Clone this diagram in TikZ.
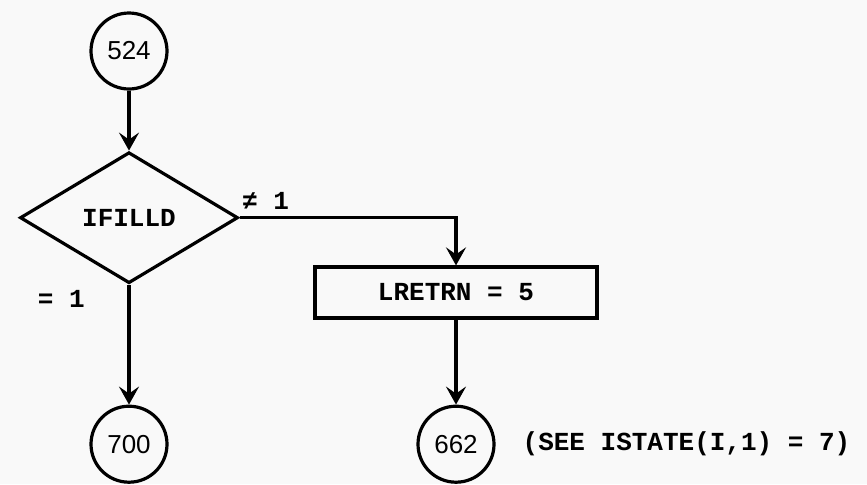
\documentclass[tikz,border=0pt]{standalone}
\usepackage{fontspec}
\setmonofont{Liberation Mono}
\newfontfamily\numfont{Liberation Sans}
\usetikzlibrary{arrows.meta,positioning,shapes.geometric}

\begin{document}
\begin{tikzpicture}[
  font=\ttfamily\bfseries\fontsize{13}{15}\selectfont,
  conn/.style={draw,circle,line width=1.6pt,minimum size=38pt,inner sep=0pt,font=\numfont\fontsize{13}{15}\selectfont},
  test/.style={draw,diamond,line width=1.6pt,minimum width=109pt,minimum height=65.5pt,inner sep=0pt},
  proc/.style={draw,rectangle,line width=1.6pt,minimum width=141pt,minimum height=25.5pt},
  flow/.style={line width=1.6pt,-{Stealth[length=9pt,width=10pt,inset=3.5pt]}}
]
  \fill[gray!5] (0,0) rectangle (433.5pt,-242pt);
  \useasboundingbox (0,0) rectangle (433.5pt,-242pt);

  \node[conn] (c524) at (64.5pt,-25.5pt) {524};
  \node[test,below=30pt of c524] (ifilld) {IFILLD};
  \node[proc] (lretrn) at (228pt,-146.25pt) {LRETRN = 5};
  \node[conn,below=42.5pt of lretrn] (c662) {662};
  \node[conn] (c700) at (c524 |- c662) {700};
  \node[right=10pt of c662] (note) {(SEE ISTATE(I,1) = 7)};

  \draw[flow] (c524) -- (ifilld);
  \draw[flow] (ifilld.east) -| node[pos=.06,above]{≠ 1} (lretrn.north);
  \draw[flow] (ifilld.south) -- node[pos=.12,left=18pt]{= 1} (c700);
  \draw[flow] (lretrn) -- (c662);
\end{tikzpicture}
\end{document}
